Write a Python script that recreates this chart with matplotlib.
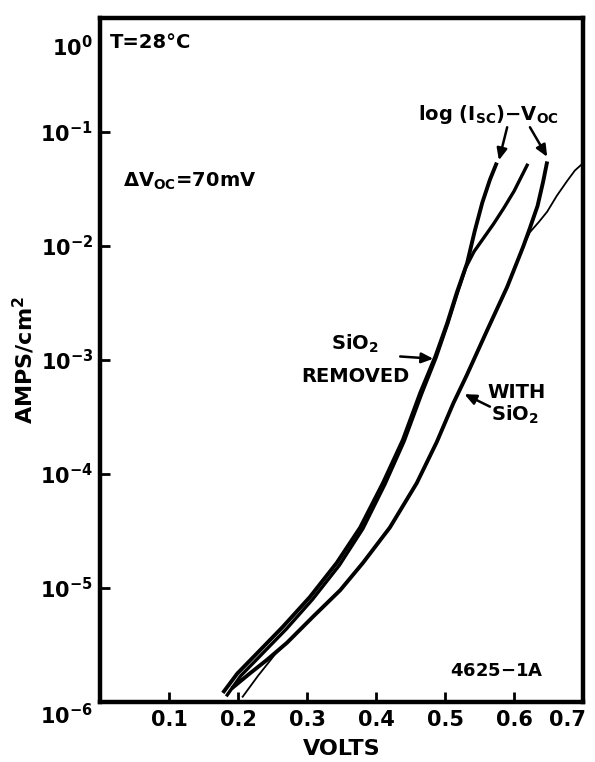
#!/usr/bin/env python3
"""Log(current density) vs voltage for a cell with and without SiO2."""
import numpy as np
import matplotlib
matplotlib.use('Agg')
import matplotlib.pyplot as plt
from matplotlib.transforms import ScaledTranslation

# ---- data (volts, log10 of A/cm^2) ----
# SiO2 removed, log(Isc)-Voc curve
rem_isc_v = [0.178, 0.199, 0.228, 0.265, 0.304, 0.343, 0.377, 0.410, 0.439,
             0.464, 0.486, 0.503, 0.517, 0.532, 0.543, 0.554, 0.565, 0.575]
rem_isc_log = [-5.92, -5.75, -5.57, -5.34, -5.08, -4.78, -4.47, -4.08, -3.70,
               -3.29, -2.97, -2.68, -2.41, -2.15, -1.87, -1.62, -1.42, -1.27]
# SiO2 removed, dark I-V curve
rem_dark_v = [0.183, 0.204, 0.233, 0.270, 0.308, 0.347, 0.381, 0.413, 0.441,
              0.466, 0.487, 0.504, 0.518, 0.530, 0.542, 0.556, 0.570, 0.585,
              0.600, 0.620]
rem_dark_log = [-5.95, -5.77, -5.59, -5.36, -5.10, -4.80, -4.48, -4.09, -3.71,
                -3.30, -2.98, -2.68, -2.41, -2.19, -2.05, -1.93, -1.81, -1.67,
                -1.52, -1.28]
# with SiO2, log(Isc)-Voc curve
ox_isc_v = [0.191, 0.217, 0.242, 0.271, 0.309, 0.348, 0.381, 0.420, 0.459,
            0.488, 0.512, 0.531, 0.561, 0.590, 0.613, 0.622, 0.634, 0.642,
            0.648]
ox_isc_log = [-5.88, -5.75, -5.63, -5.48, -5.25, -5.02, -4.78, -4.47, -4.08,
              -3.72, -3.38, -3.14, -2.74, -2.36, -2.01, -1.86, -1.65, -1.44,
              -1.26]
# with SiO2, dark I-V curve (thin line)
ox_dark_v = [0.206, 0.229, 0.254, 0.271, 0.309, 0.348, 0.381, 0.420, 0.459,
             0.488, 0.512, 0.531, 0.561, 0.590, 0.613, 0.623, 0.636, 0.648,
             0.662, 0.677, 0.688, 0.710]
ox_dark_log = [-5.96, -5.77, -5.58, -5.48, -5.25, -5.02, -4.78, -4.47, -4.08,
               -3.72, -3.38, -3.14, -2.74, -2.36, -2.01, -1.88, -1.79, -1.70,
               -1.56, -1.43, -1.34, -1.22]

x_ticks = [0.1, 0.2, 0.3, 0.4, 0.5, 0.6, 0.7]
x_labels = ['0.1', '0.2', '0.3', '0.4', '0.5', '0.6', '0.7']
y_exps = [0, -1, -2, -3, -4, -5, -6]

plt.rcParams['font.family'] = 'DejaVu Sans'
plt.rcParams['font.weight'] = 'bold'
plt.rcParams['mathtext.default'] = 'bf'

fig = plt.figure(figsize=(5.95, 7.62), dpi=100)
ax = fig.add_axes([0.168, 0.0787, 0.812, 0.898])
ax.set_yscale('log')

# thick curves, then the thin one
for v, lg, lw in [(rem_isc_v, rem_isc_log, 2.8),
                  (rem_dark_v, rem_dark_log, 2.4),
                  (ox_isc_v, ox_isc_log, 2.8),
                  (ox_dark_v, ox_dark_log, 1.3)]:
    ax.plot(v, 10.0 ** np.array(lg), color='black', lw=lw,
            solid_capstyle='butt', solid_joinstyle='round')

ax.set_xlim(0, 0.7)
ax.set_ylim(1e-6, 1)

for s in ax.spines.values():
    s.set_linewidth(3.2)

ax.set_xticks(x_ticks)
ax.set_xticklabels(x_labels, fontsize=15, fontweight='bold')
ax.set_yticks([10.0 ** e for e in y_exps])
ax.set_yticklabels([r'$10^{%d}$' % e if e == 0 else r'$10^{-%d}$' % -e
                    for e in y_exps], fontsize=15)
ax.minorticks_off()
ax.tick_params(direction='in', length=7, width=2, top=False, right=False)
ax.tick_params(axis='x', pad=6)
ax.tick_params(axis='y', pad=5)

# push the end labels off the corners like the original
ylabs = ax.get_yticklabels()
ylabs[0].set_transform(ylabs[0].get_transform()
                       + ScaledTranslation(0, -20 / 72, fig.dpi_scale_trans))
ylabs[-1].set_transform(ylabs[-1].get_transform()
                        + ScaledTranslation(0, -8 / 72, fig.dpi_scale_trans))
xlabs = ax.get_xticklabels()
xlabs[-1].set_transform(xlabs[-1].get_transform()
                        + ScaledTranslation(-11 / 72, 0, fig.dpi_scale_trans))

ax.set_xlabel('VOLTS', fontsize=16, fontweight='bold', labelpad=6)
ax.set_ylabel('AMPS/cm$^2$', fontsize=16, fontweight='bold', labelpad=2)

# annotations
ax.text(0.015, 10 ** -0.22, 'T=28°C', fontsize=14, va='center', ha='left')
ax.text(0.033, 10 ** -1.48, r'$\Delta$V$_{OC}$=70mV', fontsize=14,
        va='baseline', ha='left')
ax.text(0.461, 10 ** -0.90, r'log (I$_{SC}$)$-$V$_{OC}$', fontsize=14,
        va='baseline', ha='left')

arrow = dict(arrowstyle='-|>,head_length=0.5,head_width=0.22',
             color='black', lw=1.8, mutation_scale=14, shrinkA=0, shrinkB=0)
ax.annotate('', xy=(0.578, 10 ** -1.25), xytext=(0.590, 10 ** -0.96),
            arrowprops=arrow)
ax.annotate('', xy=(0.648, 10 ** -1.22), xytext=(0.623, 10 ** -0.96),
            arrowprops=arrow)

ax.text(0.370, 10 ** -2.91, r'SiO$_2$', fontsize=14, ha='center',
        va='baseline')
ax.text(0.370, 10 ** -3.19, 'REMOVED', fontsize=14, ha='center',
        va='baseline')
ax.annotate('', xy=(0.483, 10 ** -2.99), xytext=(0.435, 10 ** -2.97),
            arrowprops=arrow)

ax.text(0.603, 10 ** -3.33, 'WITH', fontsize=14, ha='center', va='baseline')
ax.text(0.601, 10 ** -3.53, r'SiO$_2$', fontsize=14, ha='center',
        va='baseline')
ax.annotate('', xy=(0.528, 10 ** -3.30), xytext=(0.565, 10 ** -3.41),
            arrowprops=arrow)

ax.text(0.507, 10 ** -5.77, '4625$-$1A', fontsize=13, ha='left',
        va='baseline')

fig.savefig('out.png', dpi=100)
